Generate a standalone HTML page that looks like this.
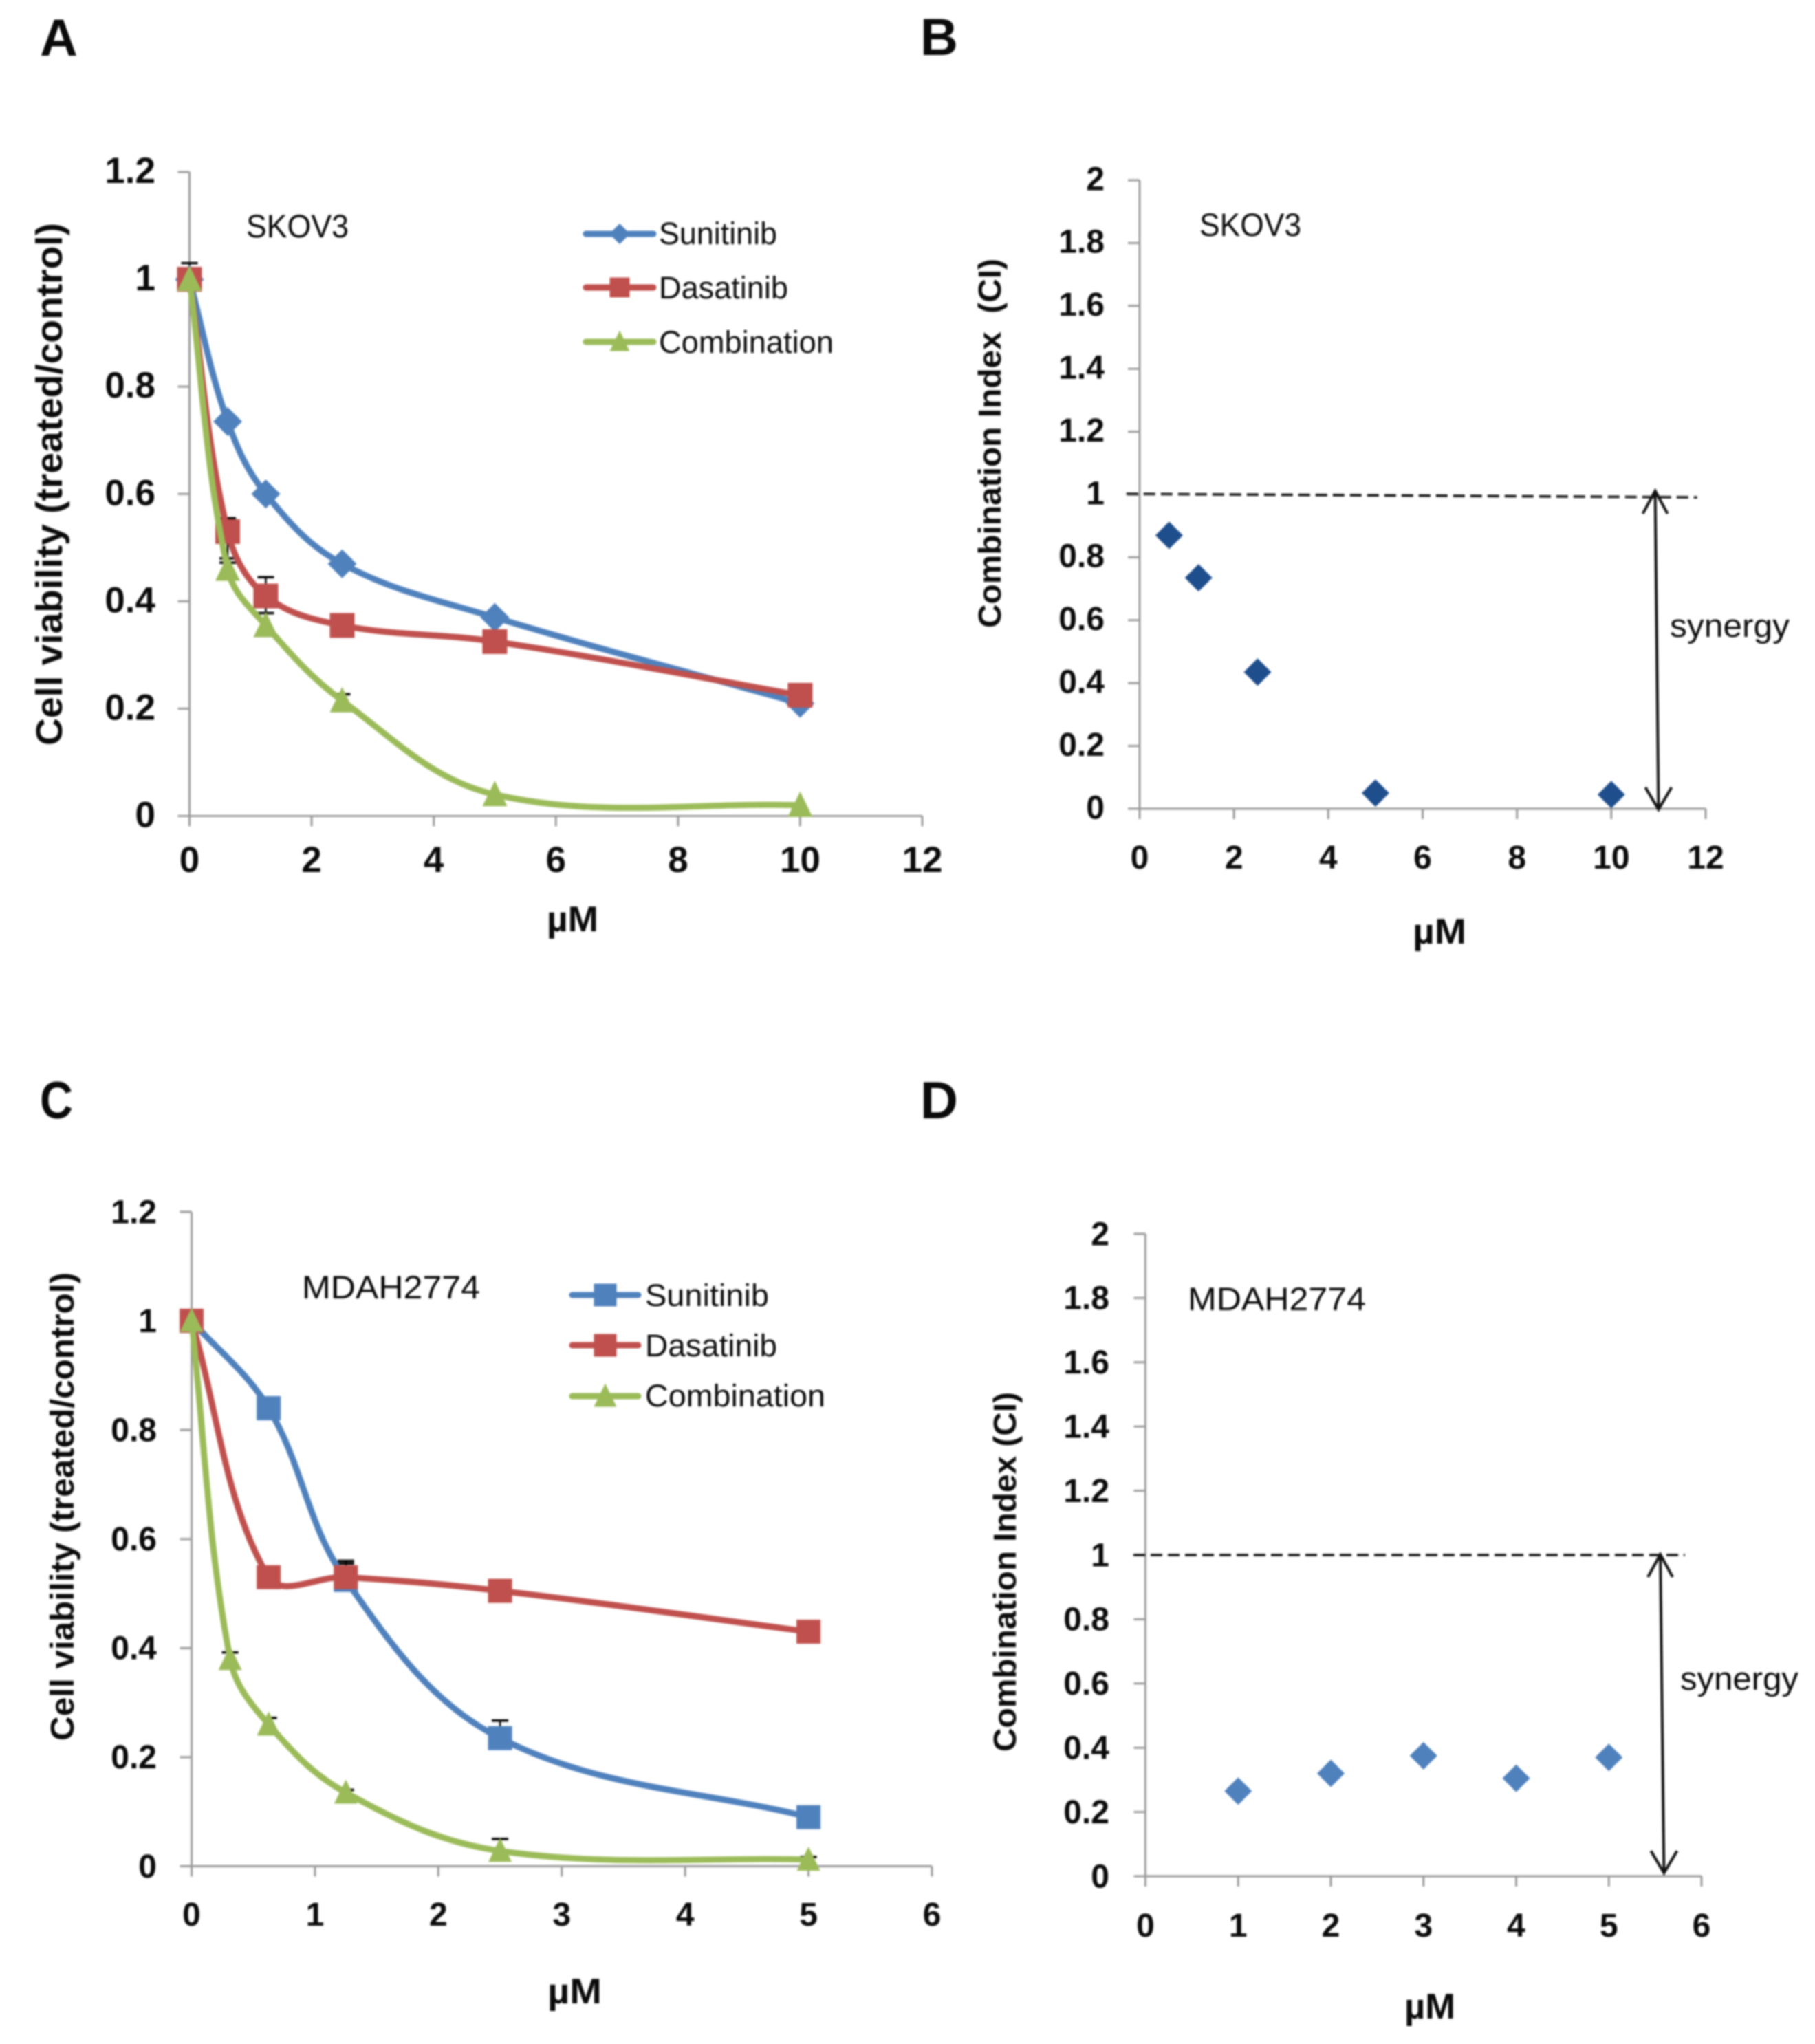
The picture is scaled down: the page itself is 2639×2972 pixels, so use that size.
<!DOCTYPE html>
<html lang="en">
<head>
<meta charset="utf-8">
<title>Cell viability and combination index charts</title>
<style>
html,body{margin:0;padding:0;background:#fff;}
svg{display:block;filter:blur(1.2px);}
text{font-family:"Liberation Sans",sans-serif;fill:#0a0a0a;}
.b{font-weight:700;}
</style>
</head>
<body>
<svg id="figure" width="2639" height="2972" viewBox="0 0 2639 2972" xmlns="http://www.w3.org/2000/svg">
<rect width="2639" height="2972" fill="#fff"/>

<text class="b" x="58" y="81" font-size="76">A</text>
<text class="b" x="1338" y="80" font-size="76">B</text>
<text class="b" x="58" y="1626" font-size="76" textLength="48" lengthAdjust="spacingAndGlyphs">C</text>
<text class="b" x="1338" y="1626" font-size="76">D</text>

<g id="panel-a"></g>
<g id="panel-b"></g>
<g id="panel-c"></g>
<g id="panel-d"></g>

<text class="b" transform="translate(90,1084) rotate(-90)" font-size="54" textLength="760" lengthAdjust="spacingAndGlyphs">Cell viability (treated/control)</text>
<text class="b" transform="translate(1455,913) rotate(-90)" font-size="46" textLength="537" lengthAdjust="spacingAndGlyphs">Combination Index&#160; (CI)</text>
<text class="b" transform="translate(107,2531) rotate(-90)" font-size="48" textLength="681" lengthAdjust="spacingAndGlyphs">Cell viability (treated/control)</text>
<text class="b" transform="translate(1477,2547) rotate(-90)" font-size="46" textLength="523" lengthAdjust="spacingAndGlyphs">Combination Index (CI)</text>

<text class="b" x="795" y="1354" font-size="52" textLength="75" lengthAdjust="spacingAndGlyphs">µM</text>
<text class="b" x="2054" y="1372" font-size="52" textLength="78" lengthAdjust="spacingAndGlyphs">µM</text>
<text class="b" x="796" y="2913" font-size="52" textLength="79" lengthAdjust="spacingAndGlyphs">µM</text>
<text class="b" x="2042" y="2935" font-size="52" textLength="74" lengthAdjust="spacingAndGlyphs">µM</text>

<text x="358" y="345" font-size="47" textLength="149" lengthAdjust="spacingAndGlyphs">SKOV3</text>
<text x="1744" y="343" font-size="47" textLength="148" lengthAdjust="spacingAndGlyphs">SKOV3</text>
<text x="439" y="1888" font-size="47" textLength="259" lengthAdjust="spacingAndGlyphs">MDAH2774</text>
<text x="1727" y="1905" font-size="47" textLength="259" lengthAdjust="spacingAndGlyphs">MDAH2774</text>

<text x="2428" y="926" font-size="47" textLength="174" lengthAdjust="spacingAndGlyphs">synergy</text>
<text x="2443" y="2457" font-size="47" textLength="172" lengthAdjust="spacingAndGlyphs">synergy</text>

<g>
  <text x="958" y="355" font-size="45" textLength="172" lengthAdjust="spacingAndGlyphs">Sunitinib</text>
  <text x="958" y="434" font-size="45" textLength="188" lengthAdjust="spacingAndGlyphs">Dasatinib</text>
  <text x="958" y="513" font-size="45" textLength="254" lengthAdjust="spacingAndGlyphs">Combination</text>
</g>
<g>
  <text x="938" y="1899" font-size="45" textLength="180" lengthAdjust="spacingAndGlyphs">Sunitinib</text>
  <text x="938" y="1972" font-size="45" textLength="192" lengthAdjust="spacingAndGlyphs">Dasatinib</text>
  <text x="938" y="2045" font-size="45" textLength="262" lengthAdjust="spacingAndGlyphs">Combination</text>
</g>
</svg>

<script>
// Panel A data (SKOV3 viability)
const panelADoses = [0, 0.625, 1.25, 2.5, 5, 10];
const panelASunitinib = [1, 0.735, 0.6, 0.47, 0.37, 0.21];
const panelADasatinib = [1, 0.53, 0.41, 0.355, 0.325, 0.225];
const panelACombination = [1, 0.46, 0.355, 0.215, 0.04, 0.02];
const panelASunitinibErr = [0.03, 0, 0, 0, 0, 0];
const panelADasatinibErr = [0, 0.025, 0.035, 0, 0, 0];
const panelADasatinibLowerErr = [0, 0.05, 0.032, 0, 0, 0];
const panelACombinationErr = [0, 0.012, 0, 0.012, 0, 0];
// Panel B data (SKOV3 combination index)
const panelBDoses = [0.625, 1.25, 2.5, 5, 10];
const panelBIndex = [0.87, 0.735, 0.435, 0.05, 0.045];
// Panel C data (MDAH2774 viability)
const panelCDoses = [0, 0.625, 1.25, 2.5, 5];
const panelCComboDoses = [0, 0.3125, 0.625, 1.25, 2.5, 5];
const panelCSunitinib = [1, 0.84, 0.525, 0.235, 0.09];
const panelCDasatinib = [1, 0.53, 0.53, 0.505, 0.43];
const panelCCombination = [1, 0.38, 0.26, 0.135, 0.028, 0.012];
const panelCSunitinibErr = [0, 0, 0.03, 0.032, 0];
const panelCDasatinibErr = [0, 0, 0.03, 0, 0];
const panelCCombinationErr = [0, 0.012, 0.012, 0.005, 0.022, 0.005];
const noLowerErr = [0, 0, 0, 0, 0, 0];
// Panel D data (MDAH2774 combination index)
const panelDDoses = [1, 2, 3, 4, 5];
const panelDIndex = [0.265, 0.32, 0.375, 0.305, 0.37];
// Tick labels
const viabilityTicks = ['0', '0.2', '0.4', '0.6', '0.8', '1', '1.2'];
const indexTicks = ['0', '0.2', '0.4', '0.6', '0.8', '1', '1.2', '1.4', '1.6', '1.8', '2'];
const doseTicks12 = ['0', '2', '4', '6', '8', '10', '12'];
const doseTicks6 = ['0', '1', '2', '3', '4', '5', '6'];
// Synergy annotations (data units)
const panelBDashX = [-0.28, 11.82];
const panelBDashY = [1.002, 0.991];
const panelBArrowX = [10.93, 11.0];
const panelBArrowY = [1.011, -0.002];
const panelDDashX = [-0.13, 5.82];
const panelDDashY = [1.0, 1.0];
const panelDArrowX = [5.555, 5.595];
const panelDArrowY = [1.002, 0.01];

const SVGNS = 'http://www.w3.org/2000/svg';
const BLUE = '#4f81bd', RED = '#c0504d', GREEN = '#9bbb59', AXIS = '#9a9a9a';

function make(parent, tag, attrs, name) {
  const el = document.createElementNS(SVGNS, tag);
  for (const k in attrs) el.setAttribute(k, attrs[k]);
  
  
  parent.appendChild(el);
  return el;
}

function makeScale(d0, d1, p0, p1) {
  return function (v) { return p0 + (v - d0) / (d1 - d0) * (p1 - p0); };
}

function drawAxes(g, sx, sy, xTicks, yTicks, fontSize, yLabelRight, xLabelBase, yLabelShift) {
  const x0 = sx(+xTicks[0]), x1 = sx(+xTicks[xTicks.length - 1]);
  const y0 = sy(+yTicks[0]), y1 = sy(+yTicks[yTicks.length - 1]);
  make(g, 'line', {x1: x0, y1: y0, x2: x0, y2: y1, stroke: AXIS, 'stroke-width': 3}, 'y-axis-line');
  make(g, 'line', {x1: x0, y1: y0, x2: x1, y2: y0, stroke: AXIS, 'stroke-width': 3}, 'x-axis-line');
  yTicks.forEach(function (t) {
    const y = sy(+t);
    make(g, 'line', {x1: x0 - 17, y1: y, x2: x0, y2: y, stroke: AXIS, 'stroke-width': 3}, 'y-tick-mark');
    const label = make(g, 'text', {x: yLabelRight, y: y + fontSize * 0.36 + yLabelShift, 'text-anchor': 'end', 'font-size': fontSize, class: 'b'}, 'y-tick-label');
    label.textContent = t;
  });
  xTicks.forEach(function (t) {
    const x = sx(+t);
    make(g, 'line', {x1: x, y1: y0, x2: x, y2: y0 + 15, stroke: AXIS, 'stroke-width': 3}, 'x-tick-mark');
    const label = make(g, 'text', {x: x, y: xLabelBase, 'text-anchor': 'middle', 'font-size': fontSize, class: 'b'}, 'x-tick-label');
    label.textContent = t;
  });
}

function smoothPath(pts) {
  const n = pts.length, k = 1.1;
  const dist = function (a, b) { return Math.hypot(a[0] - b[0], a[1] - b[1]); };
  let d = 'M' + pts[0][0] + ' ' + pts[0][1];
  const tan = pts.map(function (p, i) {
    if (i === 0 || i === n - 1) return null;
    const a = dist(pts[i - 1], p), b = dist(p, pts[i + 1]);
    return [(pts[i + 1][0] - pts[i - 1][0]) / (a + b), (pts[i + 1][1] - pts[i - 1][1]) / (a + b)];
  });
  for (let i = 0; i < n - 1; i++) {
    const p = pts[i], q = pts[i + 1], L = dist(p, q);
    const c1 = tan[i] ? [p[0] + tan[i][0] * L * k / 3, p[1] + tan[i][1] * L * k / 3] : [p[0] + (q[0] - p[0]) / 3, p[1] + (q[1] - p[1]) / 3];
    const c2 = tan[i + 1] ? [q[0] - tan[i + 1][0] * L * k / 3, q[1] - tan[i + 1][1] * L * k / 3] : [q[0] - (q[0] - p[0]) / 3, q[1] - (q[1] - p[1]) / 3];
    d += 'C' + c1[0] + ' ' + c1[1] + ' ' + c2[0] + ' ' + c2[1] + ' ' + q[0] + ' ' + q[1];
  }
  return d;
}

function marker(g, shape, x, y, size, color, name) {
  const h = size / 2;
  if (shape === 'square') {
    return make(g, 'rect', {x: x - h, y: y - h, width: size, height: size, fill: color}, name);
  }
  if (shape === 'triangle') {
    return make(g, 'polygon', {points: (x) + ',' + (y - h - 2) + ' ' + (x + h) + ',' + (y + h - 1) + ' ' + (x - h) + ',' + (y + h - 1), fill: color}, name);
  }
  return make(g, 'polygon', {points: x + ',' + (y - h) + ' ' + (x + h) + ',' + y + ' ' + x + ',' + (y + h) + ' ' + (x - h) + ',' + y, fill: color}, name);
}

function drawErrors(g, sx, sy, xs, ys, errs, lowers, name) {
  xs.forEach(function (v, i) {
    const low = lowers[i] || 0;
    if (!errs[i] && !low) return;
    const x = sx(v), top = sy(ys[i] + errs[i]), bot = sy(ys[i] - low);
    make(g, 'line', {x1: x, y1: top, x2: x, y2: bot, stroke: '#000', 'stroke-width': 2.5}, name + '-error-stem');
    if (errs[i]) {
      make(g, 'line', {x1: x - 12, y1: top, x2: x + 12, y2: top, stroke: '#000', 'stroke-width': 3.5}, name + '-error-cap');
    }
    if (low) {
      make(g, 'line', {x1: x - 12, y1: bot, x2: x + 12, y2: bot, stroke: '#000', 'stroke-width': 3.5}, name + '-error-cap');
    }
  });
}

function drawSeries(g, sx, sy, xs, ys, color, shape, size, name) {
  const pts = xs.map(function (v, i) { return [sx(v), sy(ys[i])]; });
  make(g, 'path', {d: smoothPath(pts), fill: 'none', stroke: color, 'stroke-width': 9, 'stroke-linecap': 'round'}, name + '-line');
  pts.forEach(function (p) { marker(g, shape, p[0], p[1], size, color, name + '-marker'); });
}

function drawLegendKey(g, x1, x2, y, color, shape, size, name) {
  make(g, 'line', {x1: x1, y1: y, x2: x2, y2: y, stroke: color, 'stroke-width': 9, 'stroke-linecap': 'round'}, name + '-line');
  marker(g, shape, (x1 + x2) / 2, y, size, color, name + '-marker');
}

function drawSynergy(g, sx, sy, dashX, dashY, arrowX, arrowY) {
  make(g, 'line', {x1: sx(dashX[0]), y1: sy(dashY[0]), x2: sx(dashX[1]), y2: sy(dashY[1]), stroke: '#111', 'stroke-width': 3.5, 'stroke-dasharray': '17 8'}, 'no-synergy-dashed-line');
  const ax = sx(arrowX[0]), ay = sy(arrowY[0]), bx = sx(arrowX[1]), by = sy(arrowY[1]);
  make(g, 'line', {x1: ax, y1: ay, x2: bx, y2: by, stroke: '#111', 'stroke-width': 4}, 'synergy-arrow-shaft');
  make(g, 'polyline', {points: (ax - 18) + ',' + (ay + 33) + ' ' + ax + ',' + ay + ' ' + (ax + 18) + ',' + (ay + 33), fill: 'none', stroke: '#111', 'stroke-width': 4}, 'synergy-arrow-top-head');
  make(g, 'polyline', {points: (bx - 19) + ',' + (by - 32) + ' ' + bx + ',' + by + ' ' + (bx + 19) + ',' + (by - 32), fill: 'none', stroke: '#111', 'stroke-width': 4}, 'synergy-arrow-bottom-head');
}

// Panel A
(function () {
  const g = document.getElementById('panel-a');
  const sx = makeScale(0, 12, 275.5, 1341), sy = makeScale(0, 1.2, 1186.5, 250);
  drawAxes(g, sx, sy, doseTicks12, viabilityTicks, 53, 226, 1268, -3);
  drawErrors(g, sx, sy, panelADoses, panelASunitinib, panelASunitinibErr, noLowerErr, 'sunitinib');
  drawErrors(g, sx, sy, panelADoses, panelADasatinib, panelADasatinibErr, panelADasatinibLowerErr, 'dasatinib');
  drawErrors(g, sx, sy, panelADoses, panelACombination, panelACombinationErr, noLowerErr, 'combination');
  drawSeries(g, sx, sy, panelADoses, panelASunitinib, BLUE, 'diamond', 42, 'sunitinib');
  drawSeries(g, sx, sy, panelADoses, panelADasatinib, RED, 'square', 36, 'dasatinib');
  drawSeries(g, sx, sy, panelADoses, panelACombination, GREEN, 'triangle', 36, 'combination');
  drawLegendKey(g, 852, 950, 340, BLUE, 'diamond', 30, 'legend-sunitinib');
  drawLegendKey(g, 852, 950, 418, RED, 'square', 29, 'legend-dasatinib');
  drawLegendKey(g, 852, 950, 497, GREEN, 'triangle', 29, 'legend-combination');
})();

// Panel B
(function () {
  const g = document.getElementById('panel-b');
  const sx = makeScale(0, 12, 1657, 2480), sy = makeScale(0, 2, 1176, 262);
  drawAxes(g, sx, sy, doseTicks12, indexTicks, 48, 1606, 1263, -3);
  panelBDoses.forEach(function (v, i) {
    marker(g, 'diamond', sx(v), sy(panelBIndex[i]), 40, '#1f4e8c', 'combination-index-point');
  });
  drawSynergy(g, sx, sy, panelBDashX, panelBDashY, panelBArrowX, panelBArrowY);
})();

// Panel C
(function () {
  const g = document.getElementById('panel-c');
  const sx = makeScale(0, 6, 278.5, 1355), sy = makeScale(0, 1.2, 2713.5, 1762);
  drawAxes(g, sx, sy, doseTicks6, viabilityTicks, 48, 228, 2800, -1);
  drawErrors(g, sx, sy, panelCDoses, panelCSunitinib, panelCSunitinibErr, noLowerErr, 'sunitinib');
  drawErrors(g, sx, sy, panelCDoses, panelCDasatinib, panelCDasatinibErr, noLowerErr, 'dasatinib');
  drawErrors(g, sx, sy, panelCComboDoses, panelCCombination, panelCCombinationErr, noLowerErr, 'combination');
  drawSeries(g, sx, sy, panelCDoses, panelCSunitinib, BLUE, 'square', 35, 'sunitinib');
  drawSeries(g, sx, sy, panelCDoses, panelCDasatinib, RED, 'square', 35, 'dasatinib');
  drawSeries(g, sx, sy, panelCComboDoses, panelCCombination, GREEN, 'triangle', 34, 'combination');
  drawLegendKey(g, 832, 928, 1883, BLUE, 'square', 33, 'legend-sunitinib');
  drawLegendKey(g, 832, 928, 1956, RED, 'square', 33, 'legend-dasatinib');
  drawLegendKey(g, 832, 928, 2030, GREEN, 'triangle', 33, 'legend-combination');
})();

// Panel D
(function () {
  const g = document.getElementById('panel-d');
  const sx = makeScale(0, 6, 1665.5, 2474), sy = makeScale(0, 2, 2728, 1794);
  drawAxes(g, sx, sy, doseTicks6, indexTicks, 48, 1613, 2816, -1);
  panelDDoses.forEach(function (v, i) {
    marker(g, 'diamond', sx(v), sy(panelDIndex[i]), 40, BLUE, 'combination-index-point');
  });
  drawSynergy(g, sx, sy, panelDDashX, panelDDashY, panelDArrowX, panelDArrowY);
})();
</script>
</body>
</html>
